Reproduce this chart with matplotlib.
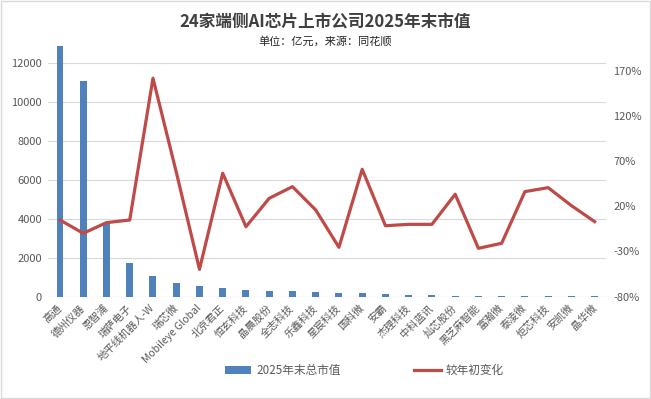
import matplotlib
matplotlib.use("Agg")
import matplotlib.pyplot as plt
from matplotlib.patches import Rectangle
from matplotlib.ticker import FuncFormatter
import numpy as np

plt.rcParams['font.family'] = ['Noto Sans CJK SC', 'DejaVu Sans']

# data
companies = ['高通', '德州仪器', '恩智浦', '瑞萨电子', '地平线机器人-W', '瑞芯微',
             'Mobileye Global', '北京君正', '恒玄科技', '晶晨股份', '全志科技', '乐鑫科技',
             '星宸科技', '国科微', '安霸', '杰理科技', '中科蓝讯', '灿芯股份',
             '黑芝麻智能', '富瀚微', '泰凌微', '炬芯科技', '安凯微', '晶华微']
market_cap = [12860, 11060, 3800, 1745, 1080, 700, 565, 445, 360, 310, 310, 255,
              190, 180, 140, 88, 85, 40, 40, 40, 38, 37, 35, 30]
change_pct = [4.8, -9.9, 1.9, 4.8, 161.6, 58, -49.7, 56.5, -2.6, 28.8, 41.7, 15.9,
              -25.4, 60.9, -1.5, 0, 0, 33.3, -26.5, -20.9, 36.2, 40.6, 20.7, 3]

bar_color = '#4F81BD'
line_color = '#BE4B48'
text_color = '#595959'

fig = plt.figure(figsize=(6.51, 3.99), dpi=100)
ax = fig.add_axes([0.0743, 0.2564, 0.857, 0.6346])
ax2 = ax.twinx()

x = np.arange(len(companies))
bars = ax.bar(x, market_cap, width=0.3, color=bar_color, zorder=2, label='2025年末总市值')
line, = ax2.plot(x, change_pct, color=line_color, lw=2.3, zorder=3, label='较年初变化')

ax.set_xlim(-0.5, len(companies) - 0.5)
ax.set_ylim(0, 13000)
ax.set_yticks(np.arange(0, 12001, 2000))
ax2.set_ylim(-80, 200)
ax2.set_yticks(np.arange(-80, 171, 50))
ax2.yaxis.set_major_formatter(FuncFormatter(lambda v, p: '%d%%' % v))

ax.grid(axis='y', color='#D9D9D9', lw=0.8, zorder=0)
for a in (ax, ax2):
    for s in ('top', 'right', 'left', 'bottom'):
        a.spines[s].set_visible(False)
    a.tick_params(length=0, labelsize=8, labelcolor=text_color)
ax.axhline(0, color='#BFBFBF', lw=0.8, zorder=1)

ax.set_xticks(x)
ax.set_xticklabels(companies, rotation=45, ha='right', va='center',
                   rotation_mode='anchor', fontsize=7.5)
ax.tick_params(axis='x', pad=7)
ax.tick_params(axis='y', pad=4.5)
ax2.tick_params(axis='y', pad=5)

fig.text(0.5, 0.945, '24家端侧AI芯片上市公司2025年末市值', ha='center', va='center',
         fontsize=12, fontweight='bold', color='#404040')
fig.text(0.5, 0.897, '单位：亿元，来源：同花顺', ha='center', va='center',
         fontsize=8, color='#262626')

fig.legend(handles=[bars, line], loc='center', bbox_to_anchor=(0.56, 0.072), ncol=2,
           frameon=False, fontsize=8.4, handlelength=2.25, handletextpad=0.45,
           columnspacing=6.3, labelcolor=text_color)

fig.patches.append(Rectangle((0.002, 0.003), 0.996, 0.994, transform=fig.transFigure,
                             fill=False, edgecolor='#D9D9D9', lw=1))

fig.savefig('out.png', dpi=100)
